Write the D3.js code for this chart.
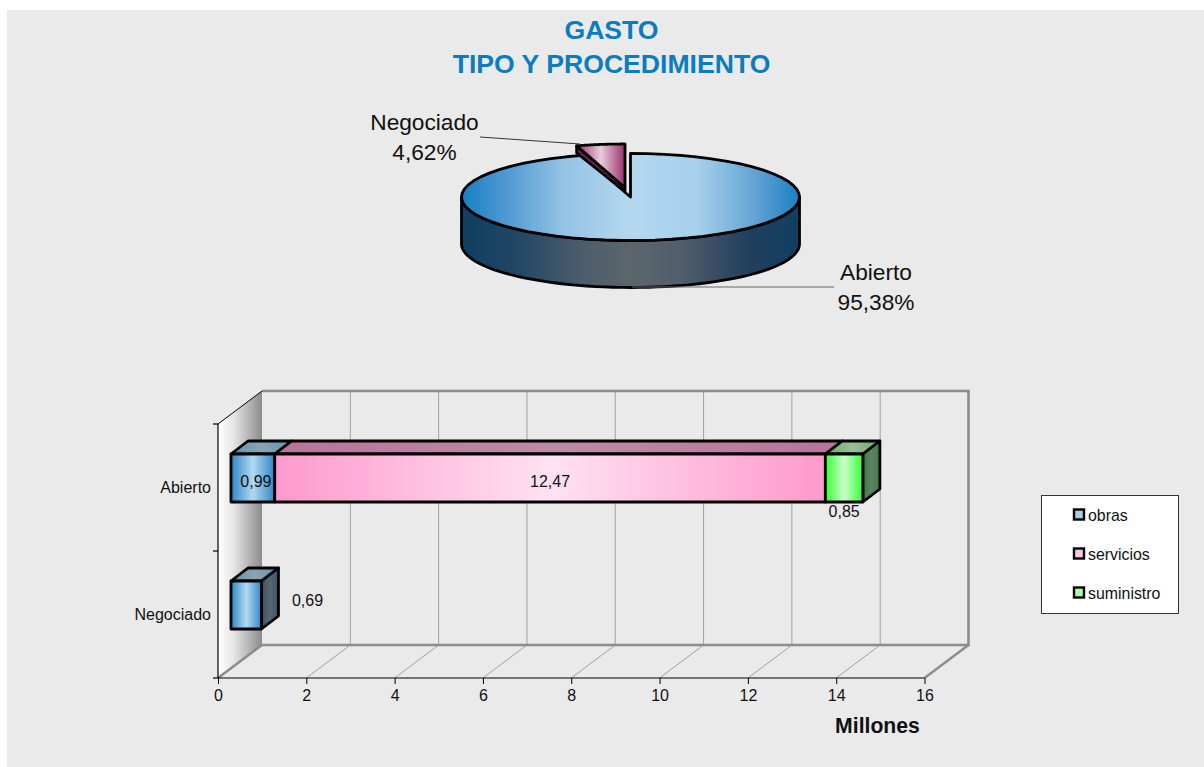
<!DOCTYPE html>
<html><head><meta charset="utf-8">
<script src="https://cdn.jsdelivr.net/npm/d3@7"></script>
<style>html,body{margin:0;padding:0;background:#fff}svg{display:block}text{font-family:"Liberation Sans",Arial,sans-serif}</style>
</head><body><svg id="c" width="1204" height="767"></svg>
<script>
const titleLines=["GASTO","TIPO Y PROCEDIMIENTO"];
const pieCategories=["Abierto","Negociado"];
const pieValues=[95.38,4.62];
const pieLabels=["95,38%","4,62%"];
const barCategories=["Abierto","Negociado"];
const seriesNames=["obras","servicios","suministro"];
const obras=[0.99,0.69];
const servicios=[12.47,0];
const suministro=[0.85,0];
const valueTicks=[0,2,4,6,8,10,12,14,16];
const axisUnit="Millones";

const svg=d3.select("#c");
const defs=svg.append("defs");
function grad(id,stops){
  const g=defs.append("linearGradient").attr("id",id).attr("x1",0).attr("x2",1).attr("y1",0).attr("y2",0);
  stops.forEach(([o,c])=>g.append("stop").attr("offset",o).attr("stop-color",c));
  return `url(#${id})`;
}
const sym=(id,e,m)=>grad(id,[[0,e],[.5,m],[1,e]]);
const fills={
 pieTop:grad("pt",[[0,"#1780c4"],[.12,"#4a96d0"],[.3,"#93c3e5"],[.5,"#b4d8ef"],[.7,"#a6d0eb"],[.88,"#5fa0d2"],[1,"#1780c4"]]),
 pieSide:grad("ps",[[0,"#0e3f62"],[.15,"#1f4563"],[.35,"#4a5c6c"],[.5,"#5c666b"],[.65,"#505e6c"],[.85,"#223f5c"],[1,"#0e3f62"]]),
 slice:sym("sl","#98316a","#eaccde"),
 sliceSide:sym("sls","#5c2245","#7a2f58"),
 wall:grad("wl",[[0,"#ffffff"],[.35,"#e6e6e6"],[1,"#8c8c8c"]]),
 front:[sym("b0","#2d86c8","#b2d9f1"),sym("b1","#ff99cc","#ffe2f1"),sym("b2","#33ff33","#ccffcc")],
 top:[sym("t0","#5f90b2","#8ba6b3"),sym("t1","#b9739b","#bb8ba6"),sym("t2","#62b262","#9dbb9d")],
 side:[sym("s0","#34556d","#5a666c"),sym("s1","#8a5f78","#8a5f78"),sym("s2","#3f7f3f","#60806a")]
};
svg.append("rect").attr("x",7).attr("y",10).attr("width",1197).attr("height",757).attr("fill","#eaeaea");

// Title
svg.selectAll(".title").data(titleLines).join("text").attr("class","title")
 .attr("x",611.5).attr("y",(d,i)=>39+i*33.5).attr("text-anchor","middle")
 .attr("font-size",26.6).attr("font-weight","bold").attr("fill","#0a7dc2").text(d=>d);

// ---------- Pie ----------
const P={cx:630.5,cy:197,rx:169,ry:43.5,h:47};
const arcs=d3.pie().sort(null).value(d=>d)(pieValues);
const main=arcs[0], neg=arcs[1];
const ell=(a,o={x:0,y:0})=>[P.cx+o.x+P.rx*Math.sin(a),P.cy+o.y-P.ry*Math.cos(a)];
const line=d3.line();
const arcPts=(a0,a1,o)=>d3.range(0,61).map(i=>ell(a0+(a1-a0)*i/60,o));
const pg=svg.append("g").attr("stroke","#000").attr("stroke-width",2.8).attr("stroke-linejoin","round");
// main side wall
const sideTop=arcPts(Math.PI/2,3*Math.PI/2);
pg.append("path").attr("d",line(sideTop.concat(sideTop.slice().reverse().map(([x,y])=>[x,y+P.h])))+"Z").attr("fill",fills.pieSide);
// main top
pg.append("path").attr("d",line([[P.cx,P.cy]].concat(arcPts(main.startAngle,main.endAngle)))+"Z").attr("fill",fills.pieTop);
// exploded slice
const off={x:-5.5,y:-9.5};
const a0=neg.startAngle-2*Math.PI,a1=neg.endAngle-2*Math.PI;
const sliceTop=[[P.cx+off.x,P.cy+off.y]].concat(arcPts(a0,a1,off));
const sliceLeft=ell(a0,off),apex=[P.cx+off.x,P.cy+off.y];
pg.append("path").attr("d",line([sliceLeft,apex,[apex[0],apex[1]+4],[sliceLeft[0],sliceLeft[1]+7]])+"Z").attr("fill",fills.sliceSide);
pg.append("path").attr("d",line(sliceTop)+"Z").attr("fill",fills.slice);

// leader lines
const cat=pieCategories;
svg.append("path").attr("d",line([[480,137],[580,144]])).attr("stroke","#333").attr("fill","none").attr("stroke-width",1);
svg.append("path").attr("d",line([[632,287],[834,287]])).attr("stroke","#666").attr("fill","none").attr("stroke-width",1);
const plab=[{x:424.5,y:130,i:1},{x:876,y:280,i:0}];
plab.forEach(p=>{
 const t=svg.append("text").attr("text-anchor","middle").attr("font-size",22.7).attr("fill","#111");
 t.append("tspan").attr("x",p.x).attr("y",p.y).text(cat[p.i]);
 t.append("tspan").attr("x",p.x).attr("y",p.y+30).text(pieLabels[p.i]);
});

// ---------- Bars ----------
const x=d3.scaleLinear().domain([0,16]).range([218,924.5]);
const y=d3.scaleBand().domain(barCategories).range([424,678]);
const D={dx:44,dy:-33};
const plot=svg.append("g");
const zero=x(0),end=x(16),yTop=y.range()[0],yBot=y.range()[1];
const grey="#8c8c8c";
// left wall
plot.append("path").attr("d",line([[zero,yTop],[zero+D.dx,yTop+D.dy],[zero+D.dx,yBot+D.dy],[zero,yBot]])+"Z").attr("fill",fills.wall);
// grid on back wall + floor
plot.selectAll(".g").data(valueTicks.slice(1,-1)).join("path").attr("class","g")
 .attr("d",d=>line([[x(d),yBot],[x(d)+D.dx,yBot+D.dy],[x(d)+D.dx,yTop+D.dy]]))
 .attr("fill","none").attr("stroke","#a0a0a0").attr("stroke-width",1);
// back wall frame
plot.append("path").attr("d",line([[zero,yBot],[zero+D.dx,yBot+D.dy],[end+D.dx,yBot+D.dy],[end+D.dx,yTop+D.dy],[zero+D.dx,yTop+D.dy]]))
 .attr("fill","none").attr("stroke",grey).attr("stroke-width",2.6);
plot.append("path").attr("d",line([[end,yBot],[end+D.dx,yBot+D.dy]])).attr("fill","none").attr("stroke",grey).attr("stroke-width",2.4);
// axes
const axB=plot.append("g").attr("transform",`translate(0,${yBot})`).call(d3.axisBottom(x).tickValues(valueTicks).tickSize(6).tickFormat(d3.format("d")));
axB.attr("font-family",null).attr("font-size",null);
axB.select(".domain").attr("stroke","#000").attr("stroke-width",1.2).attr("d",`M${zero},0H${end}`);
axB.selectAll(".tick line").attr("stroke","#000");
axB.selectAll("text").attr("font-size",16).attr("y",11.5).attr("fill","#111");
plot.append("path").attr("d",line([[zero,yTop],[zero,yBot]])).attr("stroke","#000").attr("stroke-width",1.2);
plot.append("path").attr("d",line([[zero,yTop],[zero+D.dx,yTop+D.dy]])).attr("stroke","#000").attr("stroke-width",1);
const yTicks=[yTop,yTop+(yBot-yTop)/2,yBot];
plot.selectAll(".yt").data(yTicks).join("path").attr("class","yt").attr("d",d=>line([[zero-5,d],[zero,d]])).attr("stroke","#000").attr("stroke-width",1.2);
plot.selectAll(".yl").data(barCategories).join("text").attr("class","yl")
 .attr("x",211).attr("y",d=>y(d)+y.bandwidth()/2+5.5).attr("text-anchor","end").attr("font-size",16).attr("fill","#111").text(d=>d);

// 3D stacked bars
const B={ox:13,oy:-9.5,h:48,dx:17,dy:-13};
const series=[obras,servicios,suministro];
const stacked=d3.stack().keys([0,1,2]).value((d,k)=>series[k][d])(d3.range(barCategories.length));
const barsG=plot.append("g").attr("stroke","#000").attr("stroke-width",2.8).attr("stroke-linejoin","round");
const unit=v=>x(v)-x(0);
const barX=v=>zero+B.ox+unit(v);
barCategories.forEach((c,ci)=>{
 const y0=y(c)+y.bandwidth()/2-B.h/2+B.oy, y1=y0+B.h;
 const visible=stacked.map((s,k)=>({k,a:s[ci][0],b:s[ci][1]})).filter(d=>d.b>d.a);
 const last=visible[visible.length-1];
 visible.forEach(d=>{
  barsG.append("path").attr("d",line([[barX(d.a),y0],[barX(d.a)+B.dx,y0+B.dy],[barX(d.b)+B.dx,y0+B.dy],[barX(d.b),y0]])+"Z").attr("fill",fills.top[d.k]);
 });
 barsG.append("path").attr("d",line([[barX(last.b),y0],[barX(last.b)+B.dx,y0+B.dy],[barX(last.b)+B.dx,y1+B.dy],[barX(last.b),y1]])+"Z").attr("fill",fills.side[last.k]);
 visible.forEach(d=>{
  barsG.append("rect").attr("x",barX(d.a)).attr("y",y0).attr("width",barX(d.b)-barX(d.a)).attr("height",B.h).attr("fill",fills.front[d.k]);
 });
});
// value labels
const fmt=v=>d3.format(".2f")(v).replace(".",",");
const labelSpec=[
 {v:obras[0],cx:barX(obras[0]/2)+3,y:486.5},
 {v:servicios[0],cx:barX(obras[0]+servicios[0]/2),y:486.5},
 {v:suministro[0],cx:barX(obras[0]+servicios[0]+suministro[0]/2),y:517},
 {v:obras[1],cx:307.5,y:606}
];
plot.selectAll(".vl").data(labelSpec).join("text").attr("class","vl")
 .attr("x",d=>d.cx).attr("y",d=>d.y).attr("text-anchor","middle").attr("font-size",16).attr("fill","#111").text(d=>fmt(d.v));
plot.append("text").attr("x",877.5).attr("y",733).attr("text-anchor","middle").attr("font-size",21.2).attr("font-weight","bold").attr("fill","#111").text(axisUnit);

// Legend
const lg=svg.append("g");
lg.append("rect").attr("x",1041.5).attr("y",495.5).attr("width",137).attr("height",118).attr("fill","#fff").attr("stroke","#333").attr("stroke-width",1);
const legFill=["#a4cfee","#ffc6e2","#a8ffa8"];
const row=lg.selectAll("g").data(seriesNames).join("g").attr("transform",(d,i)=>`translate(0,${515+i*39})`);
row.append("rect").attr("x",1074).attr("y",-5.5).attr("width",10).attr("height",10).attr("fill",(d,i)=>legFill[i]).attr("stroke","#000").attr("stroke-width",2.4);
row.append("text").attr("x",1088).attr("y",5.5).attr("font-size",15.9).attr("fill","#111").text(d=>d);
</script></body></html>
